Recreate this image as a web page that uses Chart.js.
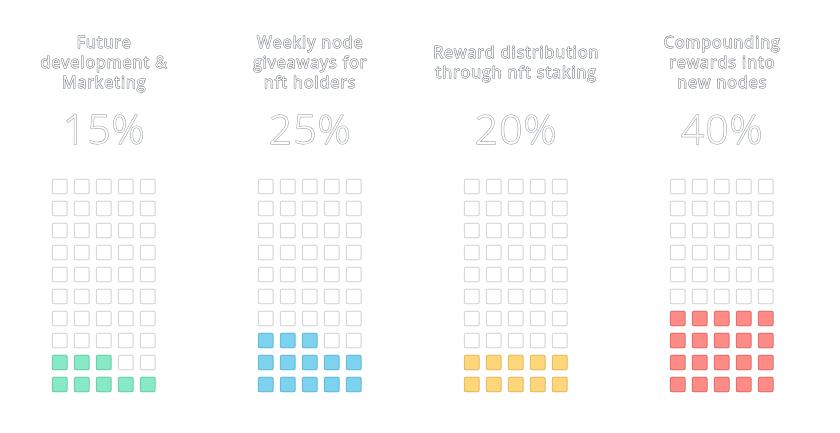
<!DOCTYPE html>
<html><head><meta charset="utf-8">
<script src="https://cdn.jsdelivr.net/npm/chart.js@4/dist/chart.umd.min.js"></script>
<style>html,body{margin:0;padding:0;background:#fff}#wrap{width:840px;height:433px}</style>
</head><body><div id="wrap"><canvas id="c" width="840" height="433"></canvas></div>
<script>
const categories = [
  ["Future", "development &", "Marketing"],
  ["Weekly node", "giveaways for", "nft holders"],
  ["Reward distribution", "through nft staking"],
  ["Compounding", "rewards into", "new nodes"]
];
const shares = [15, 25, 20, 40];
const percentLabels = ["15%", "25%", "20%", "40%"];
const fillColors = ["#88E9C5", "#7DD3EE", "#FFD67A", "#FF8B87"];
const edgeColors = ["#6ACDA8", "#62BAD6", "#E2BA5E", "#DE6E6A"];
const columns = 5, rows = 10;

// layout constants
const groupStep = 9.3636;   // horizontal distance between waffles, in column units
const cellFill = 0.7;       // fraction of a row taken by a cell

const datasets = shares.map((share, g) => {
  const filled = Math.round(share / (100 / (columns * rows)));
  const data = [], bg = [], bd = [];
  for (let k = 0; k < columns * rows; k++) {
    const r = Math.floor(k / columns), c = k % columns;
    const lo = r + (1 - cellFill) / 2;
    data.push({ x: g * groupStep + c, y: [lo, lo + cellFill] });
    const on = k < filled;
    bg.push(on ? fillColors[g] : "#ffffff");
    bd.push(on ? edgeColors[g] : "#d2d2d2");
  }
  return {
    label: categories[g].join(" "),
    data, backgroundColor: bg, borderColor: bd,
    borderWidth: 1.2, borderRadius: 2.5, borderSkipped: false,
    barThickness: 15.5, grouped: false
  };
});

function outlined(ctx, t, x, y, stroke) {
  ctx.lineWidth = 1;
  ctx.strokeStyle = stroke;
  ctx.strokeText(t, x, y);
  ctx.fillStyle = "#ffffff";
  ctx.fillText(t, x, y);
}

const textPlugin = {
  id: "waffleText",
  afterDraw(chart) {
    const ctx = chart.ctx, xs = chart.scales.x;
    ctx.save();
    ctx.textAlign = "center";
    ctx.textBaseline = "alphabetic";
    ctx.lineJoin = "round";
    categories.forEach((lines, g) => {
      const cx = xs.getPixelForValue(g * groupStep + (columns - 1) / 2) + 0.5;
      const lh = 20, mid = 68;
      ctx.font = "16px 'Open Sans'";
      ctx.letterSpacing = "1px";
      lines.forEach((t, i) => {
        const y = mid + (i - (lines.length - 1) / 2) * lh;
        outlined(ctx, t, cx, y, "rgba(70,80,90,0.85)");
      });
      ctx.font = "300 41px 'Open Sans'";
      ctx.letterSpacing = "1px";
      outlined(ctx, percentLabels[g], cx, 144, "rgba(110,120,130,0.8)");
    });
    ctx.restore();
  }
};

new Chart(document.getElementById("c"), {
  type: "bar",
  data: { datasets },
  options: {
    responsive: false, animation: false,
    layout: { padding: { top: 175.5, bottom: 37.5, left: 0, right: 0 } },
    plugins: { legend: { display: false }, tooltip: { enabled: false }, title: { display: false } },
    scales: {
      x: { type: "linear", display: false, offset: false, min: -59.75 / 22, max: -59.75 / 22 + 840 / 22 },
      y: { display: false, min: 0, max: rows }
    }
  },
  plugins: [textPlugin]
});
</script></body></html>
